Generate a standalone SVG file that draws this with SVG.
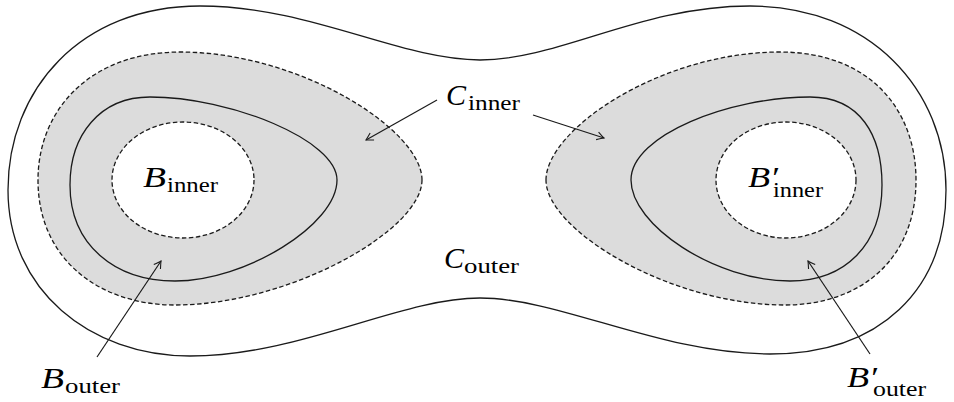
<svg xmlns="http://www.w3.org/2000/svg" width="954" height="402" viewBox="0 0 954 402">
<defs>
<style>
.solid{fill:none;stroke:#1a1a1a;stroke-width:1.3}
.shade{fill:#dcdcdc;stroke:#1a1a1a;stroke-width:1.3;stroke-dasharray:4.5 2.5}
.hole{fill:#ffffff;stroke:#1a1a1a;stroke-width:1.3;stroke-dasharray:4.5 2.5}
.arrow{fill:none;stroke:#1a1a1a;stroke-width:1.2;marker-end:url(#tip)}
.m{font-family:"Liberation Serif","DejaVu Serif",serif;font-style:italic;font-size:30px;fill:#000}
.s{font-family:"Liberation Serif","DejaVu Serif",serif;font-size:21px;fill:#000}
</style>
<marker id="tip" viewBox="-8 -5 10 10" refX="0" refY="0" markerWidth="10" markerHeight="10" markerUnits="userSpaceOnUse" orient="auto">
<path d="M -7,-4 Q -2,-1 0,0 Q -2,1 -7,4" fill="none" stroke="#1a1a1a" stroke-width="1.1"/>
</marker>
</defs>
<rect width="954" height="402" fill="#ffffff"/>
<g id="outer">
<path class="solid" d="M 480,60 C 400,60 310,6 200,6 C 80,6 8,90 8,190 C 8,290 90,356 190,356 C 300,356 400,298 480,298 C 560,298 660,354 770,354 C 880,354 946,290 946,190 C 946,90 870,6 750,6 C 640,6 560,60 480,60 Z"/>
</g>
<g id="left-region">
<path class="shade" d="M 422,180 C 422,130 300,52 180,52 C 90,52 38,110 38,180 C 38,260 100,305 175,305 C 290,305 422,230 422,180 Z"/>
<path class="solid" d="M 337,180 C 337,140 230,97 150,97 C 100,97 70,135 70,185 C 70,245 115,281 175,281 C 245,281 337,225 337,180 Z"/>
<ellipse class="hole" cx="183" cy="180" rx="71" ry="58"/>
</g>
<g id="right-region">
<path class="shade" d="M 546,180 C 546,130 660,52 780,52 C 870,52 916,110 916,180 C 916,260 860,305 785,305 C 670,305 546,230 546,180 Z"/>
<path class="solid" d="M 631,180 C 631,135 730,97 810,97 C 860,97 882,135 882,185 C 882,245 845,281 790,281 C 715,281 631,225 631,180 Z"/>
<ellipse class="hole" cx="786" cy="180" rx="70" ry="58"/>
</g>
<g id="connectors">
<path class="arrow" d="M 437,100 L 366,140"/>
<path class="arrow" d="M 533,115 L 604,138"/>
<path class="arrow" d="M 97,357 L 161,261"/>
<path class="arrow" d="M 870,354 L 808,261"/>
</g>
<g id="label-b-inner">
<text class="m" x="143" y="187" textLength="23" lengthAdjust="spacingAndGlyphs">B</text>
<text class="s" x="167" y="192" textLength="51" lengthAdjust="spacingAndGlyphs">inner</text>
</g>
<g id="label-b-inner-prime">
<text class="m" x="748" y="187" textLength="30" lengthAdjust="spacingAndGlyphs">B′</text>
<text class="s" x="773" y="197" textLength="50" lengthAdjust="spacingAndGlyphs">inner</text>
</g>
<g id="label-c-inner">
<text class="m" x="446" y="105">C</text>
<text class="s" x="468" y="110" textLength="52" lengthAdjust="spacingAndGlyphs">inner</text>
</g>
<g id="label-c-outer">
<text class="m" x="444" y="268">C</text>
<text class="s" x="464" y="273" textLength="55" lengthAdjust="spacingAndGlyphs">outer</text>
</g>
<g id="label-b-outer">
<text class="m" x="41" y="388" textLength="23" lengthAdjust="spacingAndGlyphs">B</text>
<text class="s" x="65" y="393" textLength="55" lengthAdjust="spacingAndGlyphs">outer</text>
</g>
<g id="label-b-outer-prime">
<text class="m" x="847" y="387" textLength="30" lengthAdjust="spacingAndGlyphs">B′</text>
<text class="s" x="873" y="396" textLength="53" lengthAdjust="spacingAndGlyphs">outer</text>
</g>
</svg>
